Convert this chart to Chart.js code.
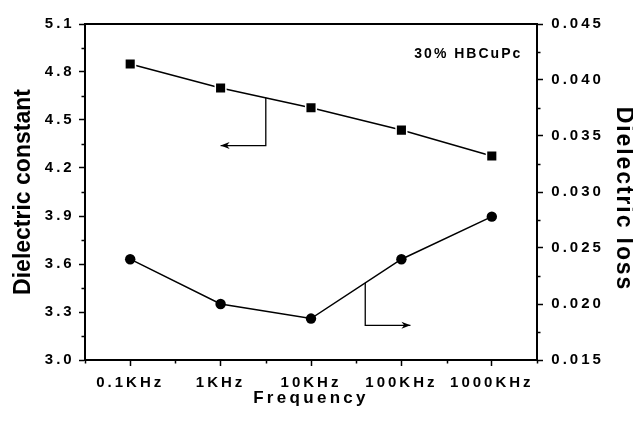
<!DOCTYPE html>
<html><head><meta charset="utf-8">
<script src="https://cdn.jsdelivr.net/npm/chart.js@4/dist/chart.umd.min.js"></script>
<style>html,body{margin:0;padding:0;background:#fff;overflow:hidden}</style>
</head><body>
<canvas id="c" width="633" height="421" style="display:block;width:633px;height:421px"></canvas>
<script>
// ---- data ----
const categories = ['0.1KHz', '1KHz', '10KHz', '100KHz', '1000KHz'];
const dielectricConstant = [4.85, 4.70, 4.577, 4.437, 4.275];
const dielectricLoss = [0.0240, 0.0200, 0.0187, 0.0240, 0.0278];
const leftTicks = [3.0, 3.3, 3.6, 3.9, 4.2, 4.5, 4.8, 5.1];
const rightTicks = [0.015, 0.020, 0.025, 0.030, 0.035, 0.040, 0.045];
const noteText = '30% HBCuPc';

const FONT = '"Liberation Sans", Arial, Helvetica, sans-serif';

function withSpacing(fn, sp, dy) {
  return function (...a) {
    const ctx = this.ctx;
    ctx.save();
    ctx.letterSpacing = sp + 'px';
    if (dy) ctx.translate(0, dy);
    try { return fn.apply(this, a); } finally { ctx.restore(); }
  };
}

const spacingCfg = {
  x: { ticks: 3, title: 3.3, titleDy: 0 },
  y: { ticks: 3, title: 0, titleDy: 0 },
  y1: { ticks: 3, title: 1.9, titleDy: 7 }
};

function interp(arr, t) {
  const i = Math.floor(t), f = t - i;
  if (i >= arr.length - 1) return arr[arr.length - 1];
  return arr[i] + (arr[i + 1] - arr[i]) * f;
}

const decorPlugin = {
  id: 'decor',
  beforeDraw(chart) {
    for (const id of Object.keys(spacingCfg)) {
      const s = chart.scales[id];
      if (s && !s.__sp) {
        s.drawLabels = withSpacing(s.drawLabels, spacingCfg[id].ticks, 0);
        s.drawTitle = withSpacing(s.drawTitle, spacingCfg[id].title, spacingCfg[id].titleDy);
        s.__sp = true;
      }
    }
  },
  afterDraw(chart, args, opts) {
    const ctx = chart.ctx;
    const { left, right, top, bottom } = chart.chartArea;
    const xs = chart.scales.x, yl = chart.scales.y, yr = chart.scales.y1;
    ctx.save();
    ctx.strokeStyle = '#000';
    // top frame line
    ctx.lineWidth = 2;
    ctx.beginPath(); ctx.moveTo(left - 1, top); ctx.lineTo(right + 1, top); ctx.stroke();
    // minor ticks
    ctx.lineWidth = 1.5;
    const ml = opts.minorLength;
    ctx.beginPath();
    for (let i = 0; i < leftTicks.length - 1; i++) {
      const p = Math.round(yl.getPixelForValue((leftTicks[i] + leftTicks[i + 1]) / 2)) + 0.5;
      ctx.moveTo(left - ml, p); ctx.lineTo(left, p);
    }
    for (let i = 0; i < rightTicks.length - 1; i++) {
      const p = Math.round(yr.getPixelForValue((rightTicks[i] + rightTicks[i + 1]) / 2)) + 0.5;
      ctx.moveTo(right, p); ctx.lineTo(right + ml, p);
    }
    for (let i = -1; i < categories.length; i++) {
      const p = Math.round(xs.getPixelForValue(i + 0.5)) + 0.5;
      ctx.moveTo(p, bottom); ctx.lineTo(p, bottom + ml);
    }
    ctx.stroke();
    // arrows
    ctx.lineWidth = 1.3;
    for (const a of opts.arrows) {
      const ys = a.axis === 'y' ? yl : yr;
      const series = a.axis === 'y' ? dielectricConstant : dielectricLoss;
      const x0 = xs.getPixelForValue(a.at);
      const y0 = ys.getPixelForValue(interp(series, a.at));
      const y1 = ys.getPixelForValue(a.down);
      const x1 = xs.getPixelForValue(a.to);
      ctx.beginPath();
      ctx.moveTo(x0, y0); ctx.lineTo(x0, y1); ctx.lineTo(x1, y1);
      ctx.stroke();
      const dir = Math.sign(x1 - x0);
      const hl = opts.headLen, hw = opts.headHalf;
      ctx.fillStyle = '#000';
      ctx.beginPath();
      ctx.moveTo(x1, y1);
      ctx.lineTo(x1 - dir * hl, y1 - hw);
      ctx.lineTo(x1 - dir * hl * 0.7, y1);
      ctx.lineTo(x1 - dir * hl, y1 + hw);
      ctx.closePath();
      ctx.fill();
    }
    // note text
    ctx.letterSpacing = opts.note.spacing + 'px';
    ctx.font = 'bold ' + opts.note.size + 'px ' + FONT;
    ctx.fillStyle = '#000';
    ctx.textAlign = 'center';
    ctx.textBaseline = 'middle';
    ctx.fillText(noteText, xs.getPixelForValue(opts.note.x), yl.getPixelForValue(opts.note.y));
    ctx.restore();
  }
};

const axisCommon = {
  border: { display: true, color: '#000', width: 2 },
  grid: { display: true, drawOnChartArea: false, drawTicks: true, tickLength: 6, tickColor: '#000', tickWidth: 1.5 },
};

new Chart(document.getElementById('c'), {
  type: 'line',
  data: {
    labels: categories,
    datasets: [
      {
        label: 'Dielectric constant', data: dielectricConstant, yAxisID: 'y',
        borderColor: '#000', borderWidth: 1.5, tension: 0,
        pointStyle: 'rect', pointRadius: 7.5, pointBackgroundColor: '#000',
        pointBorderColor: '#fff', pointBorderWidth: 1.5, pointHoverRadius: 7.5
      },
      {
        label: 'Dielectric loss', data: dielectricLoss, yAxisID: 'y1',
        borderColor: '#000', borderWidth: 1.5, tension: 0,
        pointStyle: 'circle', pointRadius: 5.2, pointBackgroundColor: '#000',
        pointBorderColor: '#000', pointBorderWidth: 0, pointHoverRadius: 5.2
      }
    ]
  },
  options: {
    responsive: false,
    animation: false,
    devicePixelRatio: 1,
    layout: { padding: { top: 24, left: 0, right: 0, bottom: 0 } },
    plugins: {
      legend: { display: false },
      tooltip: { enabled: false },
      decor: {
        minorLength: 3.5,
        headLen: 9, headHalf: 3.5,
        arrows: [
          { axis: 'y', at: 1.5, down: 4.34, to: 1.0 },
          { axis: 'y1', at: 2.6, down: 0.0181, to: 3.1 }
        ],
        note: { x: 3.74, y: 4.91, size: 14, spacing: 2 }
      }
    },
    scales: {
      x: {
        ...axisCommon,
        offset: true,
        ticks: { color: '#000', padding: 8, maxRotation: 0, autoSkip: false, font: { family: FONT, size: 15, weight: 'bold' } },
        title: { display: true, text: 'Frequency', color: '#000', font: { family: FONT, size: 17, weight: 'bold', lineHeight: 1 }, padding: { top: 0, bottom: 14.2 } },
        afterFit(s) { s.height = 61; }
      },
      y: {
        ...axisCommon,
        position: 'left',
        min: 3.0, max: 5.1,
        afterBuildTicks(s) { s.ticks = leftTicks.map(v => ({ value: v })); },
        ticks: { color: '#000', padding: 4.3, callback: v => Number(v).toFixed(1), font: { family: FONT, size: 15, weight: 'bold' } },
        title: { display: true, text: 'Dielectric constant', color: '#000', font: { family: FONT, size: 23, weight: 'bold', lineHeight: 1 }, padding: { top: 11.8, bottom: 0 } },
        afterFit(s) { s.width = 85; }
      },
      y1: {
        ...axisCommon,
        position: 'right',
        min: 0.015, max: 0.045,
        afterBuildTicks(s) { s.ticks = rightTicks.map(v => ({ value: v })); },
        ticks: { color: '#000', padding: 8.3, callback: v => Number(v).toFixed(3), font: { family: FONT, size: 15, weight: 'bold' } },
        title: { display: true, text: 'Dielectric loss', color: '#000', font: { family: FONT, size: 23, weight: 'bold', lineHeight: 0.85 }, padding: { top: 0, bottom: 0 } },
        afterFit(s) { s.width = 96; }
      }
    }
  },
  plugins: [decorPlugin]
});
</script>
</body></html>
